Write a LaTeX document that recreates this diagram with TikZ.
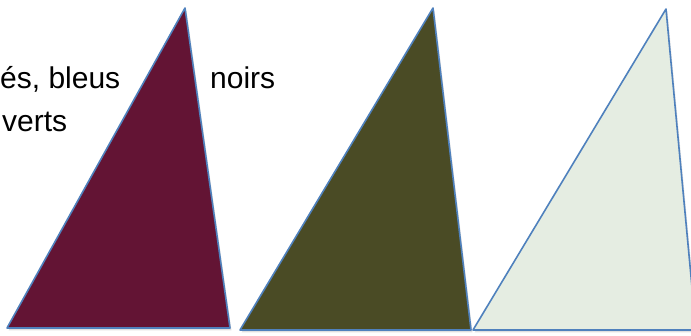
\documentclass[tikz,border=0pt]{standalone}
\usepackage{fontspec}
\setmainfont{Liberation Sans}
\definecolor{edgeblue}{HTML}{4F81BD}
\definecolor{maroon}{HTML}{631434}
\definecolor{olive}{HTML}{4A4B25}
\definecolor{palegreen}{HTML}{E5EDE2}
\begin{document}
\begin{tikzpicture}[x=1pt,y=-1pt,
  tri/.style={draw=edgeblue, line width=1.6pt, line join=round},
  lbl/.style={anchor=base west, inner sep=0pt, font=\fontsize{30}{36}\selectfont}]
\useasboundingbox (0,0) rectangle (691,336);
\clip (0,0) rectangle (691,336);
\node[lbl] (t1) at (0,89) {és, bleus};
\node[lbl] (t2) at (210,89) {noirs};
\node[lbl] (t3) at (2,132) {verts};
% triangle vertices
\coordinate (a1) at (185,8);
\coordinate (b1) at (7,328);
\coordinate (c1) at (230,328);
\coordinate (a2) at (433,8);
\coordinate (b2) at (240,330);
\coordinate (c2) at (471,330);
\coordinate (a3) at (666,9);
\coordinate (b3) at (473,330);
\coordinate (c3) at (696,330);
\fill[black!12] ([shift={(1.5,2.5)}]a1) -- ([shift={(1.5,2.5)}]b1) -- ([shift={(1.5,2.5)}]c1) -- cycle;
\fill[black!12] ([shift={(1.5,2.5)}]a2) -- ([shift={(1.5,2.5)}]b2) -- ([shift={(1.5,2.5)}]c2) -- cycle;
\fill[black!12] ([shift={(1.5,2.5)}]a3) -- ([shift={(1.5,2.5)}]b3) -- ([shift={(1.5,2.5)}]c3) -- cycle;
\draw[tri, fill=maroon] (a1) -- (b1) -- (c1) -- cycle;
\draw[tri, fill=olive] (a2) -- (b2) -- (c2) -- cycle;
\draw[tri, fill=palegreen] (a3) -- (b3) -- (c3) -- cycle;
\end{tikzpicture}
\end{document}
